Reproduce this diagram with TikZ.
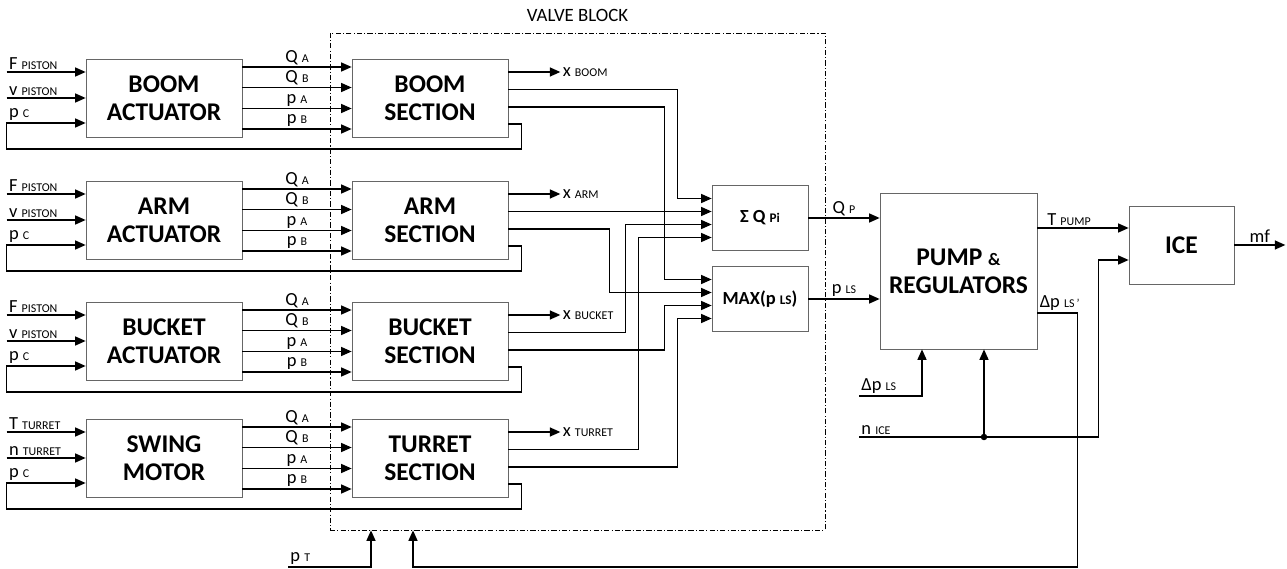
\documentclass[tikz,border=0pt]{standalone}
\usepackage{fontspec}
\setmainfont{Carlito}
\usetikzlibrary{positioning, arrows.meta, calc}
\newcommand{\sig}[2]{#1\ {\fontsize{6.8}{8}\selectfont #2}}
\tikzset{
  unit/.style={draw=black!60, minimum width=3.12cm, minimum height=1.56cm,
               align=center, font=\bfseries\fontsize{14.5}{16}\selectfont},
  merge/.style={draw=black!60, minimum width=1.92cm, minimum height=1.3cm,
                font=\bfseries\fontsize{10.5}{12}\selectfont},
  wire/.style={-{Triangle[length=2.1mm, width=1.8mm]}, line width=0.75pt},
  link/.style={line width=0.75pt},
  tag/.style={font=\fontsize{10.5}{12}\selectfont, inner sep=1pt}
}

\begin{document}
\begin{tikzpicture}
  \useasboundingbox (0,0) rectangle (25.74,-11.38);
  % valve block frame
  \node[draw, thin, dash pattern=on 3pt off 1.2pt on 0.6pt off 1.2pt,
        minimum width=9.9cm, minimum height=9.94cm] (vb) at (11.55,-5.63) {};
  \node[font=\fontsize{10.7}{12}\selectfont, above=0.1cm of vb.north] {VALVE BLOCK};
  % the four rows: actuator -> section
  \foreach \r/\y/\act/\sec/\ia/\ib/\sub/\xs in {
      1/-1.96/{BOOM\\ACTUATOR}/{BOOM\\SECTION}/F/v/PISTON/BOOM,
      2/-4.40/{ARM\\ACTUATOR}/{ARM\\SECTION}/F/v/PISTON/ARM,
      3/-6.82/{BUCKET\\ACTUATOR}/{BUCKET\\SECTION}/F/v/PISTON/BUCKET,
      4/-9.16/{SWING\\MOTOR}/{TURRET\\SECTION}/T/n/TURRET/TURRET} {
    \node[unit] (act\r) at (3.28,\y) {\act};
    \node[unit] (sec\r) at (8.60,\y) {\sec};
    \draw[wire] ($(act\r.west)+(-1.58,0.52)$) node[above right, tag] {\sig{\ia}{\sub}} -- ($(act\r.west)+(0,0.52)$);
    \draw[wire] ($(act\r.west)+(-1.58,0)$) node[above right, tag] {\sig{\ib}{\sub}} -- (act\r.west);
    \foreach \o/\q/\s in {0.62/Q/A, 0.21/Q/B, -0.21/p/A, -0.62/p/B}
      \draw[wire] ($(act\r.east)+(0,\o)$) -- node[above, tag] {\sig{\q}{\s}} ($(sec\r.west)+(0,\o)$);
    \draw[wire] ($(sec\r.east)+(0,0.52)$) -- ++(1.04,0) node[right, tag] {\sig{x}{\xs}};
    % p_C feedback
    \draw[wire] ($(sec\r.east)+(0,-0.52)$) -- ++(0.26,0) |- ($(act\r.west)+(-1.58,-1.02)$)
      -- ++(0,0.52) node[above right, tag] {\sig{p}{C}} -- ($(act\r.west)+(0,-0.50)$);
  }
  \node[merge] (sum) at (15.20,-4.36) {Σ Q {\fontsize{7.5}{9}\selectfont Pi}};
  \node[merge] (max) at (15.20,-5.98) {MAX(p {\fontsize{7.5}{9}\selectfont LS})};
  % flows to the sum block
  \draw[wire] ($(sec1.east)+(0,0.17)$) -| ($(sum.west)+(-0.68,0.39)$) -- ($(sum.west)+(0,0.39)$);
  \draw[wire] ($(sec2.east)+(0,0.17)$) -- ($(sum.west)+(0,0.13)$);
  \draw[wire] ($(sec3.east)+(0,0.17)$) -| ($(sum.west)+(-1.72,-0.13)$) -- ($(sum.west)+(0,-0.13)$);
  \draw[wire] ($(sec4.east)+(0,0.17)$) -| ($(sum.west)+(-1.46,-0.39)$) -- ($(sum.west)+(0,-0.39)$);
  % load pressures to the max block
  \draw[wire] ($(sec1.east)+(0,-0.18)$) -| ($(max.west)+(-0.94,0.39)$) -- ($(max.west)+(0,0.39)$);
  \draw[wire] ($(sec2.east)+(0,-0.18)$) -| ($(max.west)+(-2.04,0.13)$) -- ($(max.west)+(0,0.13)$);
  \draw[wire] ($(sec3.east)+(0,-0.18)$) -| ($(max.west)+(-0.94,-0.13)$) -- ($(max.west)+(0,-0.13)$);
  \draw[wire] ($(sec4.east)+(0,-0.18)$) -| ($(max.west)+(-0.68,-0.39)$) -- ($(max.west)+(0,-0.39)$);
  % pump and engine
  \node[unit, minimum width=3.14cm, minimum height=3.12cm] (pump) at (19.17,-5.42)
    {PUMP {\fontsize{10}{11}\selectfont\&}\\REGULATORS};
  \node[unit, minimum width=2.10cm] (ice) at (23.63,-4.90) {ICE};
  \draw[wire] (sum.east) -- node[above, tag] {\sig{Q}{P}} (sum.east -| pump.west);
  \draw[wire] (max.east) -- node[above, tag] {\sig{p}{LS}} (max.east -| pump.west);
  \coordinate (tp) at ($(ice.west)+(0,0.34)$);
  \draw[wire] ($(tp -| pump.east)$) node[above right, tag, xshift=0.15cm] {\sig{T}{PUMP}} -- (tp);
  \draw[wire] (ice.east) -- node[above, tag] {mf} ++(1.02,0);
  \coordinate (nice) at (17.18,-8.74);
  \coordinate (dpls) at (17.18,-7.92);
  \coordinate (icol) at ($(ice.west)+(-0.60,-0.30)$);
  \coordinate (jn) at ($(pump.south)+(0.51,0)$);
  \draw[wire] (dpls) node[above right, tag] {\sig{Δp}{LS}} -| ($(pump.south)+(-0.73,0)$);
  \draw[wire] (nice) node[above right, tag] {\sig{n}{ICE}} -| (icol) -- ($(ice.west)+(0,-0.30)$);
  \draw[wire] (jn |- nice) -- (jn);
  \fill (jn |- nice) circle (0.065);
  % feedback into the valve block
  \coordinate (pt) at (5.76,-11.34);
  \draw[wire] (pt) node[above right, tag] {\sig{p}{T}} -| ($(vb.south)+(-4.13,0)$);
  \draw[wire] ($(pump.east)+(0,-0.84)$) node[above right, tag] {\sig{Δp}{LS\,’}}
    -| ($(pump.east)+(0.80,-5.92)$) -| ($(vb.south)+(-3.29,0)$);
\end{tikzpicture}
\end{document}
